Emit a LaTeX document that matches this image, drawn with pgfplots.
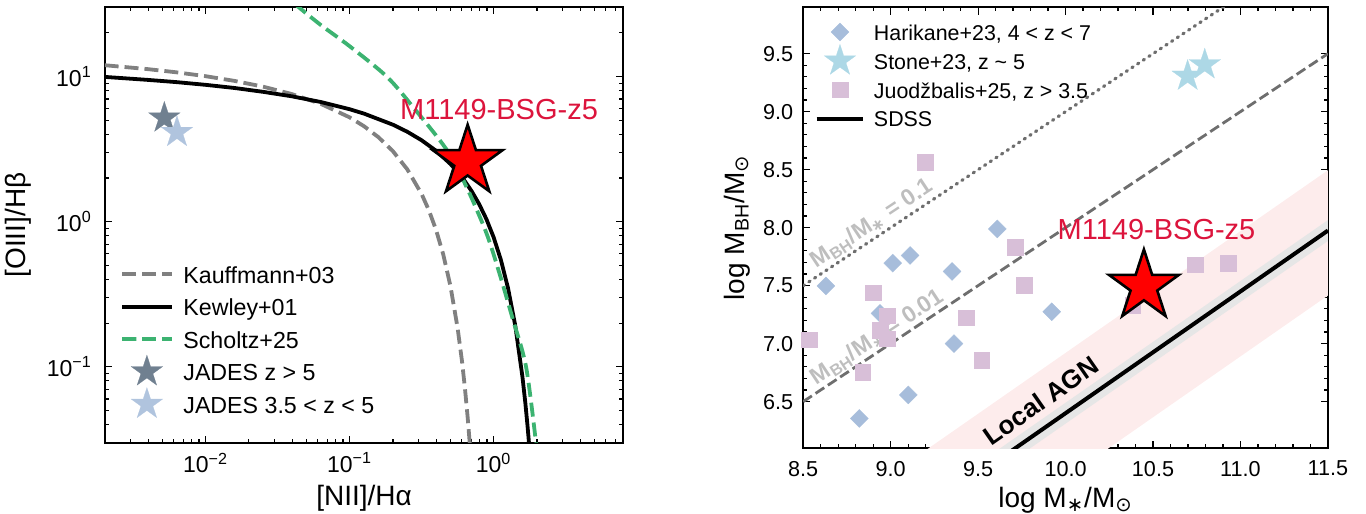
\documentclass[border=0pt]{standalone}
\usepackage{fontspec}
\setmainfont{Liberation Sans}
\newfontfamily\dejavu{DejaVu Sans}
\usepackage{pgfplots}
\pgfplotsset{compat=1.18}

\definecolor{kgray}{HTML}{808080}
\definecolor{sgreen}{HTML}{3CB371}
\definecolor{slate}{HTML}{708090}
\definecolor{lsteel}{HTML}{B0C4DE}
\definecolor{hblue}{HTML}{A7BDDB}
\definecolor{jpink}{HTML}{D8BFD8}
\definecolor{sblue}{HTML}{ADD8E6}
\definecolor{crim}{HTML}{DC143C}
\definecolor{bandpink}{HTML}{FDECEC}
\definecolor{bandgray}{HTML}{E6E6E6}
\definecolor{ratiogray}{HTML}{BEBEBE}
\definecolor{dgray}{HTML}{6E6E6E}

\pgfdeclareplotmark{fstar}{%
 \pgfpathmoveto{\pgfpointpolar{90}{\pgfplotmarksize}}%
 \pgfpathlineto{\pgfpointpolar{126}{0.382\pgfplotmarksize}}%
 \pgfpathlineto{\pgfpointpolar{162}{\pgfplotmarksize}}%
 \pgfpathlineto{\pgfpointpolar{198}{0.382\pgfplotmarksize}}%
 \pgfpathlineto{\pgfpointpolar{234}{\pgfplotmarksize}}%
 \pgfpathlineto{\pgfpointpolar{270}{0.382\pgfplotmarksize}}%
 \pgfpathlineto{\pgfpointpolar{306}{\pgfplotmarksize}}%
 \pgfpathlineto{\pgfpointpolar{342}{0.382\pgfplotmarksize}}%
 \pgfpathlineto{\pgfpointpolar{18}{\pgfplotmarksize}}%
 \pgfpathlineto{\pgfpointpolar{54}{0.382\pgfplotmarksize}}%
 \pgfpathclose
 \pgfusepathqfillstroke}

\newcommand\lstrut{\rule[-2.35pt]{0pt}{13pt}}
\newcommand\rstrut{\rule[-2.17pt]{0pt}{12pt}}

\pgfplotsset{
  common/.style={
    scale only axis,
    tick align=inside,
    axis line style={line width=0.9pt},
    every tick/.style={line width=0.6pt, black},
    major tick length=3.6pt,
    minor tick length=2pt,
    clip=true,
  }
}

\begin{document}
\begin{tikzpicture}
\path[use as bounding box] (-52.4pt,3.65pt) rectangle (630.6pt,-253.35pt);

% ---------------- left panel ----------------
\begin{axis}[common,
  at={(0pt,0pt)}, anchor=north west,
  width=259.25pt, height=217.7pt,
  xmode=log, ymode=log,
  xmin=0.002, xmax=7.943, ymin=0.03, ymax=30,
  xtick={0.01,0.1,1},
  xticklabels={10\textsuperscript{−2},10\textsuperscript{−1},10\textsuperscript{0}},
  ytick={0.1,1,10},
  yticklabels={10\textsuperscript{−1},10\textsuperscript{0},10\textsuperscript{1}},
  minor xtick={0.002,0.003,0.004,0.005,0.006,0.007,0.008,0.009,0.02,0.03,0.04,0.05,0.06,0.07,0.08,0.09,0.2,0.3,0.4,0.5,0.6,0.7,0.8,0.9,2,3,4,5,6,7},
  minor ytick={0.04,0.05,0.06,0.07,0.08,0.09,0.2,0.3,0.4,0.5,0.6,0.7,0.8,0.9,2,3,4,5,6,7,8,9,20},
  tick label style={font=\fontsize{11.5}{13}\selectfont},
  xticklabel style={yshift=-1.5pt},
  yticklabel style={xshift=-3pt},
  xlabel={[NII]/Hα},
  ylabel={[OIII]/Hβ},
  label style={font=\fontsize{14}{16}\selectfont},
  xlabel style={at={(axis description cs:0.5,-0.127)}, anchor=center},
  ylabel style={at={(axis description cs:-0.166,0.5)}, anchor=center},
  legend style={draw=none, fill=none, at={(rel axis cs:0.0332,0.415)}, anchor=north west,
    inner sep=0pt, outer sep=0pt, row sep=4.1pt,
    font=\fontsize{11.6}{13}\selectfont, nodes={inner sep=0pt},
    /tikz/every odd column/.style={column sep=5.8pt}},
  legend cell align=left,
  legend image code/.code={%
    \begin{pgfinterruptboundingbox}
    \draw[mark repeat=2,mark phase=2,#1] plot coordinates {(0pt,0pt) (12.45pt,0pt) (24.9pt,0pt)};
    \end{pgfinterruptboundingbox}
    \pgfpathrectangle{\pgfpoint{0pt}{-4pt}}{\pgfpoint{24.9pt}{8pt}}\pgfusepath{}},
]
\addplot[kgray, line width=1.9pt, dash pattern=on 7pt off 3pt] coordinates {
(0.001995,11.97)(0.003981,11.25)(0.00631,10.69)(0.01,10.06)(0.01585,9.339)(0.02512,8.517)
(0.03981,7.574)(0.0631,6.486)(0.1,5.236)(0.1259,4.549)(0.1585,3.823)(0.1995,3.067)
(0.2512,2.299)(0.3162,1.552)(0.3548,1.202)(0.3981,0.8799)(0.4467,0.5957)(0.5012,0.3607)
(0.5623,0.1848)(0.6026,0.1098)(0.631,0.07244)(0.6607,0.04444)(0.6823,0.02991)};
\addlegendentry{\lstrut Kauffmann+03}
\addplot[black, line width=1.9pt] coordinates {
(0.001995,9.945)(0.003981,9.484)(0.00631,9.152)(0.01,8.770)(0.01585,8.344)(0.02512,7.848)
(0.03981,7.308)(0.0631,6.678)(0.1,5.957)(0.1259,5.555)(0.1995,4.663)(0.2512,4.168)
(0.3162,3.640)(0.3981,3.083)(0.5012,2.499)(0.5623,2.202)(0.6310,1.904)(0.7079,1.607)
(0.7943,1.318)(0.8913,1.040)(1.0,0.780)(1.122,0.5465)(1.259,0.3478)(1.413,0.1922)
(1.585,0.0852)(1.660,0.0562)(1.718,0.0393)(1.758,0.0301)};
\addlegendentry{\lstrut Kewley+01}
\addplot[sgreen, line width=1.9pt, dash pattern=on 7pt off 3pt, smooth, tension=0.5] coordinates {
(0.0417,31.6)(0.0624,22.86)(0.1007,16.11)(0.1811,10.0)(0.2742,6.21)(0.471,3.14)
(0.647,1.742)(0.889,0.839)(1.094,0.4446)(1.343,0.2213)(1.679,0.1)(1.968,0.0299)};
\addlegendentry{\lstrut Scholtz+25}
\addplot[slate, only marks, mark=fstar, mark size=8.3pt, mark options={fill=slate, draw=slate, line width=0.1pt}] coordinates {(0.00518,5.19)};
\addlegendentry{\lstrut JADES z > 5}
\addplot[lsteel, only marks, mark=fstar, mark size=8.3pt, mark options={fill=lsteel, draw=lsteel, line width=0.1pt}] coordinates {(0.00634,4.13)};
\addlegendentry{\lstrut JADES 3.5 < z < 5}
\addplot[only marks, mark=fstar, mark size=18.4pt, mark options={fill=red, draw=black, line width=1.3pt}, forget plot] coordinates {(0.66,2.6)};
\node[text=crim, font=\fontsize{14.5}{16}\selectfont] at (axis cs:1.09,5.9) {M1149-BSG-z5};
\end{axis}

% ---------------- right panel ----------------
\begin{axis}[common,
  at={(349.2pt,0pt)}, anchor=north west,
  width=262.35pt, height=220.35pt,
  xmin=8.5, xmax=11.5, ymin=6.1, ymax=9.9,
  xtick={8.5,9,9.5,10,10.5,11,11.5},
  xticklabels={8.5,9.0,9.5,10.0,10.5,11.0,11.5},
  ytick={6.5,7,7.5,8,8.5,9,9.5},
  yticklabels={6.5,7.0,7.5,8.0,8.5,9.0,9.5},
  minor x tick num=4, minor y tick num=4,
  tick label style={font=\fontsize{10.8}{13}\selectfont},
  xticklabel style={yshift=-3pt},
  yticklabel style={xshift=-1.5pt},
  xlabel={log M\textsubscript{{\dejavu ∗}}/M\textsubscript{{\dejavu ⊙}}},
  ylabel={log M\textsubscript{BH}/M\textsubscript{{\dejavu ⊙}}},
  label style={font=\fontsize{14}{16}\selectfont},
  xlabel style={at={(axis description cs:0.5,-0.118)}, anchor=center},
  ylabel style={at={(axis description cs:-0.126,0.5)}, anchor=center},
  legend style={draw=none, fill=none, at={(rel axis cs:0.0257,0.9696)}, anchor=north west,
    inner sep=0pt, outer sep=0pt, row sep=3.1pt,
    font=\fontsize{10.7}{12}\selectfont, nodes={inner sep=0pt},
    /tikz/every odd column/.style={column sep=5.35pt}},
  legend cell align=left,
  legend image code/.code={%
    \begin{pgfinterruptboundingbox}
    \draw[mark repeat=2,mark phase=2,#1] plot coordinates {(0pt,0pt) (11.65pt,0pt) (23.3pt,0pt)};
    \end{pgfinterruptboundingbox}
    \pgfpathrectangle{\pgfpoint{0pt}{-4pt}}{\pgfpoint{23.3pt}{8pt}}\pgfusepath{}},
]
% scatter band of local AGN relation
\addplot[fill=bandpink, draw=none, forget plot] coordinates {(9.0,5.87)(11.5,8.495)(11.5,7.415)(9.0,4.79)} -- cycle;
\addplot[fill=bandgray, draw=none, forget plot] coordinates {(9.0,5.44)(11.5,8.065)(11.5,7.885)(9.0,5.26)} -- cycle;
% constant ratio lines
\addplot[dgray, line width=1.4pt, dash pattern=on 5.2pt off 2.2pt, forget plot] coordinates {(8.5,6.5)(11.5,9.5)};
\addplot[dgray, line width=1.6pt, dash pattern=on 0.7pt off 2.7pt, line cap=round, forget plot] coordinates {(8.5,7.5)(11.0,10.0)};
% Harikane+23
\addplot[hblue, only marks, mark=square*, mark size=3.2pt, mark options={rotate=45, fill=hblue, draw=hblue, line width=0.1pt}] coordinates {
(8.630,7.497)(8.821,6.355)(9.012,7.694)(9.111,7.760)(8.939,7.261)(9.101,6.558)
(9.351,7.622)(9.362,7.000)(9.610,7.989)(9.921,7.275)};
\addlegendentry{\rstrut Harikane+23, 4 < z < 7}
% Stone+23
\addplot[sblue, only marks, mark=fstar, mark size=8.3pt, mark options={fill=sblue, draw=sblue, line width=0.1pt}] coordinates {
(10.698,9.307)(10.796,9.405)};
\addlegendentry{\rstrut Stone+23, z \textasciitilde{} 5}
% Juodzbalis+25
\addplot[jpink, only marks, mark=square*, mark size=3.9pt, mark options={fill=jpink, draw=jpink, line width=0.1pt}] coordinates {
(8.535,7.035)(9.196,8.567)(8.901,7.439)(8.981,7.240)(8.939,7.116)(8.981,7.044)
(8.840,6.754)(9.431,7.226)(9.521,6.856)(9.711,7.833)(9.762,7.506)(10.740,7.680)
(10.929,7.694)(10.383,7.333)};
\addlegendentry{\rstrut Juodžbalis+25, z > 3.5}
% SDSS relation
\addplot[black, line width=2pt] coordinates {(9.0,5.35)(11.5,7.975)};
\addlegendentry{\rstrut SDSS}
% target
\addplot[only marks, mark=fstar, mark size=18.4pt, mark options={fill=red, draw=black, line width=1.3pt}, forget plot] coordinates {(10.448,7.495)};
\node[text=crim, font=\fontsize{14.5}{16}\selectfont] at (axis cs:10.52,7.98) {M1149-BSG-z5};
\node[rotate=33.55, text=ratiogray, font=\bfseries\fontsize{11.5}{13}\selectfont] at (axis cs:8.893,8.035) {M\textsubscript{BH}/M\textsubscript{{\dejavu ∗}} = 0.1};
\node[rotate=33.55, text=ratiogray, font=\bfseries\fontsize{11.5}{13}\selectfont] at (axis cs:8.924,7.055) {M\textsubscript{BH}/M\textsubscript{{\dejavu ∗}} = 0.01};
\node[rotate=34.85, font=\bfseries\fontsize{13}{15}\selectfont] at (axis cs:9.859,6.509) {Local AGN};
\end{axis}
\end{tikzpicture}
\end{document}
